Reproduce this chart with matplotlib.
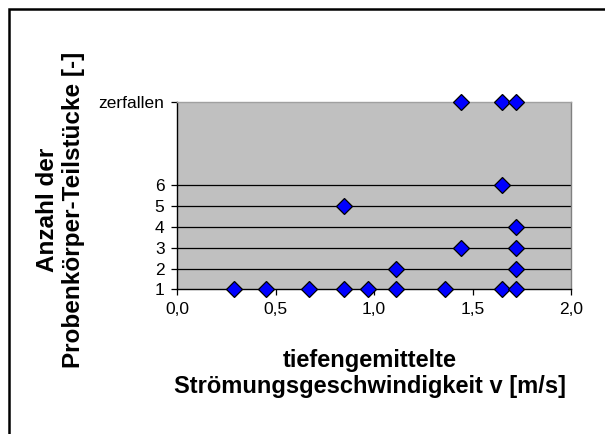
import matplotlib
matplotlib.use("Agg")
import matplotlib.pyplot as plt
from matplotlib.patches import Rectangle

plt.rcParams['font.family'] = ['Liberation Sans', 'DejaVu Sans']

# Strömungsgeschwindigkeit [m/s] und Anzahl der Teilstücke (10 = zerfallen)
v_werte = [0.29, 0.45, 0.67, 0.85, 0.97, 1.11, 1.36, 1.65, 1.72,
           1.11, 1.72, 1.44, 1.72, 1.72, 0.85, 1.65, 1.44, 1.65, 1.72]
anzahl = [1, 1, 1, 1, 1, 1, 1, 1, 1,
          2, 2, 3, 3, 4, 5, 6, 10, 10, 10]

y_ticks = [1, 2, 3, 4, 5, 6, 10]
y_labels = ['1', '2', '3', '4', '5', '6', 'zerfallen']
x_ticks = [0.0, 0.5, 1.0, 1.5, 2.0]
x_labels = ['0,0', '0,5', '1,0', '1,5', '2,0']

x_titel = 'tiefengemittelte\nStrömungsgeschwindigkeit v [m/s]'
y_titel = 'Anzahl der\nProbenkörper-Teilstücke [-]'

fig = plt.figure(figsize=(6.05, 4.34), dpi=100)
ax = fig.add_axes([177/605, 144.7/434, 394/605, 187/434])
ax.set_facecolor('#c0c0c0')

for y in y_ticks[1:-1]:
    ax.axhline(y, color='black', lw=0.9, zorder=1)

ax.plot(v_werte, anzahl, linestyle='none', marker='D', markersize=8.2,
        markerfacecolor='#0000ff', markeredgecolor='black', markeredgewidth=0.9,
        clip_on=False, zorder=3)

ax.set_xlim(0, 2)
ax.set_ylim(1, 10)
ax.set_xticks(x_ticks)
ax.set_xticklabels(x_labels, fontsize=12.5)
ax.set_yticks(y_ticks)
ax.set_yticklabels(y_labels, fontsize=12.5)
ax.tick_params(direction='out', length=4, width=0.9, color='black', pad=5)

ax.spines['left'].set_color('black')
ax.spines['bottom'].set_color('black')
ax.spines['top'].set_color('#a0a0a0')
ax.spines['right'].set_color('#808080')
for s in ax.spines.values():
    s.set_linewidth(1.0)

# Achsentitel
for i, zeile in enumerate(x_titel.split('\n')):
    fig.text(370/605, 1 - (360 + 27*i)/434, zeile, ha='center', va='center',
             fontsize=17, fontweight='bold')
for i, zeile in enumerate(y_titel.split('\n')):
    fig.text((48 + 26*i)/605, 1 - 210/434, zeile, ha='center', va='center',
             rotation=90, fontsize=17.5, fontweight='bold')

# Rahmen
fig.add_artist(Rectangle((9/605, -0.1), 1.2, 1.1 - 9.5/434, fill=False,
                         edgecolor='black', lw=1.8, transform=fig.transFigure,
                         clip_on=False))

fig.savefig('out.png', dpi=100)
